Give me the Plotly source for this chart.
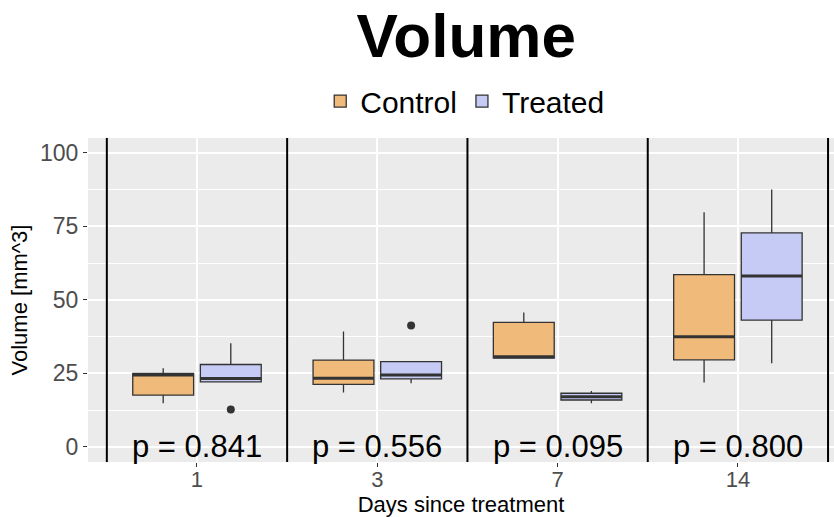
import plotly.graph_objects as go

# Data: box statistics per time point
days = ["1", "3", "7", "14"]
positions = [1, 2, 3, 4]

control_q1 = [17.6, 21.2, 30.2, 29.6]
control_median = [24.4, 23.3, 30.6, 37.4]
control_q3 = [25.0, 29.5, 42.3, 58.6]
control_lower = [14.8, 18.5, 30.1, 21.9]
control_upper = [26.7, 39.2, 45.7, 79.8]

treated_q1 = [22.1, 23.1, 15.9, 43.1]
treated_median = [23.2, 24.4, 17.0, 58.1]
treated_q3 = [28.0, 29.0, 18.2, 72.8]
treated_lower = [21.9, 21.6, 14.8, 28.4]
treated_upper = [35.2, 29.0, 19.0, 87.6]

# outlying points (day position, value), treated group only
treated_outlier_pos = [1, 2]
treated_outlier_val = [12.7, 41.3]

p_values = ["p = 0.841", "p = 0.556", "p = 0.095", "p = 0.800"]

CONTROL_FILL = "#F0BB7A"
TREATED_FILL = "#C5CBF5"
EDGE = "#333333"
FONT = "Liberation Sans, Arial, Helvetica, sans-serif"

# dodge geometry (in axis units): group width 0.75, 10% padding per box
BOXGAP = 0.25
BOXGROUPGAP = 0.1
slot = (1 - BOXGAP) / 2
offset = slot / 2
half_w = slot * (1 - BOXGROUPGAP) / 2

fig = go.Figure()

fig.add_trace(go.Box(
    name="Control", x=positions, q1=control_q1, median=control_median,
    q3=control_q3, lowerfence=control_lower, upperfence=control_upper,
    fillcolor=CONTROL_FILL, line=dict(color=EDGE, width=1.3),
    whiskerwidth=0, boxpoints=False, offsetgroup="c", hoverinfo="skip",
))
fig.add_trace(go.Box(
    name="Treated", x=positions, q1=treated_q1, median=treated_median,
    q3=treated_q3, lowerfence=treated_lower, upperfence=treated_upper,
    fillcolor=TREATED_FILL, line=dict(color=EDGE, width=1.3),
    whiskerwidth=0, boxpoints=False, offsetgroup="t", hoverinfo="skip",
))

# thicker median bars, as in ggplot
for meds, sign in ((control_median, -1), (treated_median, 1)):
    xs, ys = [], []
    for p, m in zip(positions, meds):
        c = p + sign * offset
        xs += [c - half_w, c + half_w, None]
        ys += [m, m, None]
    fig.add_trace(go.Scatter(x=xs, y=ys, mode="lines",
                             line=dict(color=EDGE, width=3),
                             showlegend=False, hoverinfo="skip"))

# outliers
fig.add_trace(go.Scatter(
    x=[p + offset for p in treated_outlier_pos], y=treated_outlier_val,
    mode="markers", marker=dict(color=EDGE, size=8),
    showlegend=False, hoverinfo="skip",
))

# p-value labels
for p, txt in zip(positions, p_values):
    fig.add_annotation(x=p, y=0, text=txt, showarrow=False,
                       xanchor="center", yanchor="middle",
                       font=dict(size=31, color="black", family=FONT))

# black separators between days
for b in [0.5, 1.5, 2.5, 3.5, 4.5]:
    fig.add_shape(type="line", x0=b, x1=b, xref="x", y0=0, y1=1, yref="paper",
                  line=dict(color="black", width=2))

fig.update_layout(
    width=834, height=517,
    margin=dict(l=88, r=0, t=138, b=55),
    paper_bgcolor="white", plot_bgcolor="#EBEBEB",
    font=dict(family=FONT, color="black"),
    boxmode="group", boxgap=BOXGAP, boxgroupgap=BOXGROUPGAP,
    title=dict(text="<b>Volume</b>", x=0.559, xref="container", xanchor="center",
               y=0.932, yref="container", yanchor="middle",
               font=dict(size=62, color="black", family=FONT)),
    legend=dict(orientation="h", x=0.505, xanchor="center", y=1.114,
                yanchor="middle", font=dict(size=30, color="black"),
                bgcolor="rgba(0,0,0,0)", itemwidth=30, tracegroupgap=0),
    showlegend=True,
)

fig.update_xaxes(
    range=[0.3955, 4.533], tickvals=positions, ticktext=days,
    showgrid=True, gridcolor="white", gridwidth=1.5, zeroline=False,
    ticks="outside", ticklen=4, tickcolor=EDGE, ticklabelstandoff=-6,
    tickfont=dict(size=22, color="#4D4D4D"),
    title=dict(text="Days since treatment", font=dict(size=22, color="black"),
               standoff=9),
)
fig.update_yaxes(
    range=[-5.2, 105.1], tickvals=[0, 25, 50, 75, 100],
    showgrid=True, gridcolor="white", gridwidth=1.5, zeroline=False,
    minor=dict(tickvals=[12.5, 37.5, 62.5, 87.5], showgrid=True,
               gridcolor="white", gridwidth=0.8, ticks=""),
    ticks="outside", ticklen=4, tickcolor=EDGE,
    tickfont=dict(size=23, color="#4D4D4D"),
    title=dict(text="Volume [mm^3]", font=dict(size=22, color="black"),
               standoff=6),
)

fig.write_html("out.html")
